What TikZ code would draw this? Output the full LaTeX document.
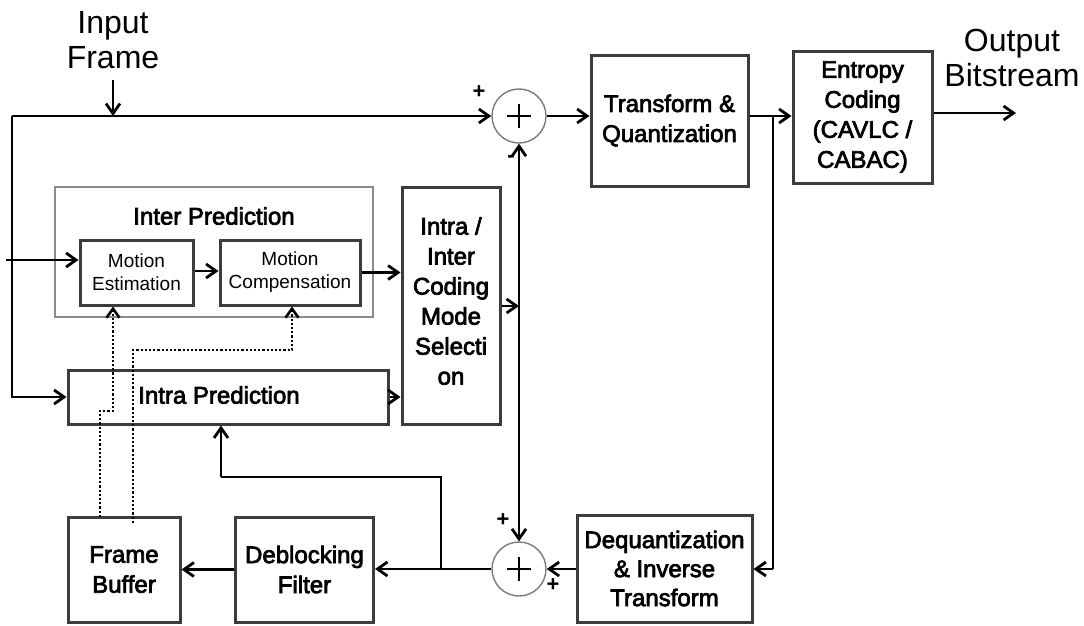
\documentclass[tikz,border=0pt]{standalone}
\usepackage{fontspec}
\setmainfont{Liberation Sans}
\newfontfamily\heavysans[FakeBold=3]{Liberation Sans}
\usetikzlibrary{arrows.meta}
\definecolor{boxline}{HTML}{3C3C3C}
\definecolor{ringline}{HTML}{7A7A7A}
\definecolor{groupline}{HTML}{8A8A8A}

\begin{document}
\begin{tikzpicture}[x=1pt,y=-1pt,
  boxfont/.style={font=\heavysans\fontsize{24}{30}\selectfont},
  blk/.style={draw=boxline, line width=3pt, inner sep=0pt, align=center, boxfont},
  subblk/.style={draw=boxline, line width=3pt, inner sep=0pt, align=center,
    font=\fontsize{19}{23}\selectfont},
  group/.style={draw=groupline, line width=1.4pt, inner sep=0pt},
  txt/.style={inner sep=0pt, align=center, boxfont},
  lbl/.style={align=center, inner sep=0pt, font=\fontsize{32}{35}\selectfont},
  sign/.style={inner sep=0pt, font=\bfseries\fontsize{22}{22}\selectfont},
  sumc/.style={circle, draw=ringline, line width=1.4pt, minimum size=54pt, inner sep=0pt,
    path picture={\draw[line width=2pt,black]
      ([xshift=-12pt]path picture bounding box.center) -- ([xshift=12pt]path picture bounding box.center)
      ([yshift=-12pt]path picture bounding box.center) -- ([yshift=12pt]path picture bounding box.center);}},
  wire/.style={line width=2.8pt, black},
  tip/.tip={Straight Barb[length=10pt,width=14pt]},
  arr/.style={wire, -tip},
  darr/.style={wire, tip-tip},
  dots/.style={line width=2.6pt, black, dash pattern=on 2.2pt off 2pt},
  dotarr/.style={dots, -{Straight Barb[length=9pt,width=13pt]}}
]
\useasboundingbox (0,0) rectangle (1084,625);

% signal labels
\node[lbl] (inlbl) at (113,40) {Input\\Frame};
\node[lbl] (outlbl) at (1012,58) {Output\\Bitstream};

% summing junctions
\node[sumc] (sum1) at (519,116) {};
\node[sumc] (sum2) at (519,569) {};
\node[sign] (p1) at (479,92) {+};
\node[sign] (m1) at (511,159) {-};
\node[sign] (p2) at (503,520) {+};
\node[sign] (p3) at (553,585) {+};

% forward path
\node[blk, minimum width=157pt, minimum height=131pt] (tq) at (669.5,120.5) {Transform \&\\Quantization};
\node[blk, minimum width=139pt, minimum height=132pt] (ent) at (862.5,117) {Entropy\\Coding\\(CAVLC /\\CABAC)};

% prediction
\node[group, minimum width=318pt, minimum height=130pt] (inter) at (214,252) {};
\node[txt] (intertitle) at (214,216) {Inter Prediction};
\node[subblk, minimum width=113pt, minimum height=65pt] (me) at (136.5,272.5) {Motion\\Estimation};
\node[subblk, minimum width=140pt, minimum height=65pt] (mc) at (290,272.5) {Motion\\Compensation};
\node[blk, minimum width=98pt, minimum height=237pt] (mode) at (451,305.5) {};
\node[txt] (modetxt) at (451,301) {Intra /\\Inter\\Coding\\Mode\\Selecti\\on};
\node[blk, minimum width=320pt, minimum height=54pt] (intra) at (228,397) {};
\node[txt] (intratxt) at (219,395) {Intra Prediction};

% reconstruction path
\node[blk, minimum width=175pt, minimum height=107pt, font=\heavysans\fontsize{24}{29}\selectfont] (deq) at (664.5,568.5) {Dequantization\\\& Inverse\\Transform};
\node[blk, minimum width=138pt, minimum height=105pt] (deb) at (304.5,569.5) {Deblocking\\Filter};
\node[blk, minimum width=112pt, minimum height=105pt] (fb) at (124,569.5) {Frame\\Buffer};

% routing points
\coordinate (tl) at (12,116);
\coordinate (inpt) at (113,116);
\coordinate (instart) at (113,80);
\coordinate (lowl) at (12,397);
\coordinate (mestart) at (6,260);
\coordinate (vx) at (519,306);
\coordinate (br) at (773,116);
\coordinate (brlow) at (773,569);
\coordinate (outend) at (1016,113);
\coordinate (fbk) at (441,569);
\coordinate (fbkup) at (441,477);
\coordinate (fbkleft) at (221,477);
\coordinate (d1a) at (100,517);
\coordinate (d1b) at (100,411);
\coordinate (d1c) at (113,411);
\coordinate (d2a) at (133,523);
\coordinate (d2b) at (133,350);
\coordinate (d2c) at (292,350);

% input and residual
\draw[arr] (instart) -- (inpt);
\draw[arr] (tl) -- (sum1.west);
\draw[arr] (tl) -- (lowl) -- (intra.west |- lowl);
\draw[arr] (mestart) -- (me.west |- mestart);
\draw[arr] (sum1.east) -- (tq.west |- sum1.east);
\draw[arr] (tq.east |- br) -- (ent.west |- br);
\draw[arr] (ent.east |- outend) -- (outend);
\draw[wire] (br) -- (brlow);
\draw[arr] (brlow) -- (deq.east |- brlow);

% prediction flow
\draw[arr] (me.east |- 0,271) -- (mc.west |- 0,271);
\draw[arr] (mc.east) -- (mode.west |- mc.east);
\draw[arr] (intra.east) -- (mode.west |- intra.east);
\draw[arr] (mode.east |- vx) -- (vx);
\draw[darr] (sum1.south) -- (sum2.north);

% reconstruction loop
\draw[arr] (deq.west |- sum2) -- (sum2.east);
\draw[arr] (sum2.west) -- (deb.east |- sum2);
\draw[arr] (deb.west |- fb) -- (fb.east);
\draw[wire] (fbk) -- (fbkup) -- (fbkleft);
\draw[arr] (fbkleft) -- (intra.south -| fbkleft);

% reference frames
\draw[dotarr] (d1a) -- (d1b) -- (d1c) -- (me.south -| d1c);
\draw[dotarr] (d2a) -- (d2b) -- (d2c) -- (mc.south -| d2c);
\end{tikzpicture}
\end{document}
